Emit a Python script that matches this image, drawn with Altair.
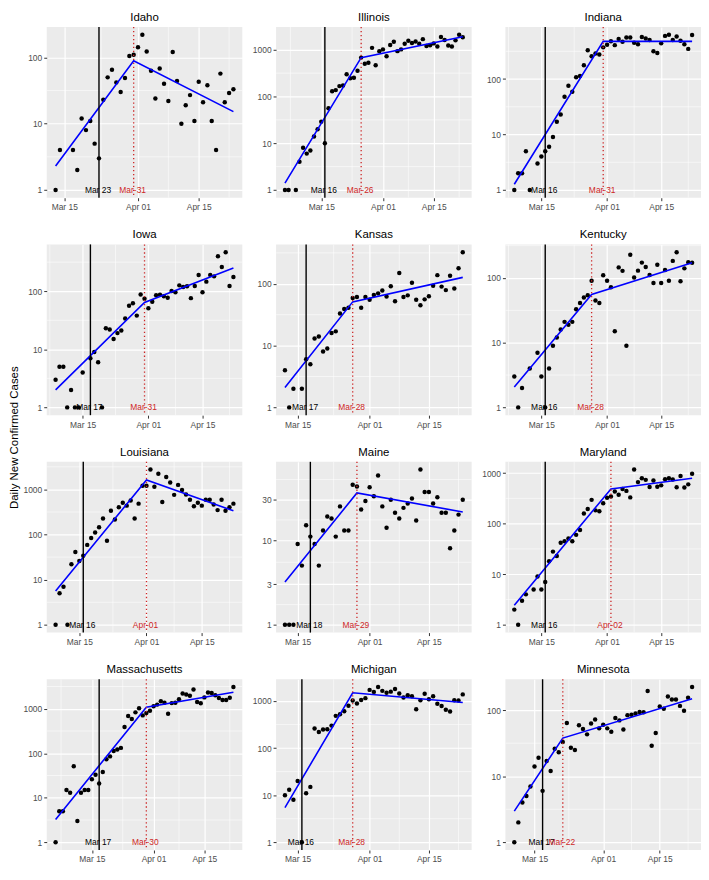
import altair as alt
import pandas as pd
import numpy as np
from datetime import datetime, timedelta, timezone

FONT = "Liberation Sans, Arial, Helvetica, sans-serif"
RED = "#CD2626"

STATES = ["Idaho", "Illinois", "Indiana", "Iowa", "Kansas", "Kentucky",
          "Louisiana", "Maine", "Maryland", "Massachusetts", "Michigan", "Minnesota"]
FIRST_DAY = ["2020-03-13", "2020-03-05", "2020-03-08", "2020-03-08", "2020-03-12", "2020-03-08",
             "2020-03-09", "2020-03-12", "2020-03-08", "2020-03-05", "2020-03-12", "2020-03-10"]
BLACK_LINE = ["2020-03-23", "2020-03-16", "2020-03-16", "2020-03-17", "2020-03-17", "2020-03-16",
              "2020-03-16", "2020-03-18", "2020-03-16", "2020-03-17", "2020-03-16", "2020-03-17"]
BLACK_LABEL = ["Mar 23", "Mar 16", "Mar 16", "Mar 17", "Mar 17", "Mar 16",
               "Mar 16", "Mar 18", "Mar 16", "Mar 17", "Mar 16", "Mar 17"]
RED_LINE = ["2020-03-31", "2020-03-26", "2020-03-31", "2020-03-31", "2020-03-28", "2020-03-28",
            "2020-04-01", "2020-03-29", "2020-04-02", "2020-03-30", "2020-03-28", "2020-03-22"]
RED_LABEL = ["Mar-31", "Mar-26", "Mar-31", "Mar-31", "Mar-28", "Mar-28",
             "Apr-01", "Mar-29", "Apr-02", "Mar-30", "Mar-28", "Mar-22"]
FIT_START = [2.3, 1.4, 1.27, 2.0, 2.1, 2.07, 5.6, 3.2, 2.43, 3.25, 5.45, 2.96]
FIT_BREAK = [89, 680, 478, 64, 51, 55.6, 1620, 36, 485, 1085, 1490, 37.8]
FIT_END = [15.2, 1900, 478, 250, 127, 172, 336, 21.5, 789, 2360, 925, 149]
Y_BREAKS = [[1, 10, 100], [1, 10, 100, 1000], [1, 10, 100], [1, 10, 100], [1, 10, 100], [1, 10, 100],
            [1, 10, 100, 1000], [1, 3, 10, 30], [1, 10, 100, 1000], [1, 10, 100, 1000],
            [1, 10, 100, 1000], [1, 10, 100]]
X_BREAKS = ["2020-03-15", "2020-04-01", "2020-04-15"]

IDAHO = [1, 4, None, None, 4, 2, 12, 8, 11, 5, 3, 23, 50, 65, 42, 30, 49, 105, 110,
         142, 220, 123, 63, 24, 68, 40, 22, 121, 44, 10, 19, 27, 11, 43, 21, 38, 11, 4, 57, 21, 29, 33]
ILLINOIS = [1, 1, None, 1, 4, 8, 6, 7, 14, 20, 29, 10, 56, 129, 137, 167, 172, 300, 245, 252,
            355, 680, 503, 526, 1100, 465, 935,
            1020, 725, 1260, 1490, 935, 1020, 1350, 1560, 1400, 1500, 1350, 1690, 1200, 1250,
            1370, 1170, 1870, 1620, 1230, 1170, 1590, 2100, 1850]
INDIANA = [1, 2, 2, 5, 1, None, 3, 4, 5, 6, 9, 17, 23, 48, 76, 59, 108, 114, 178, 330, 257, 290, 277, 373,
           417, 481, 409, 530, 470, 560, 560, 450, 425, 575, 540, 505, 318, 296, 440, 600, 630, 505,
           585, 490, 425, 350, 625]
IOWA = [3, 5, 5, 1, 2, 1, 1, 4, None, 7, 9, 6, 1, 23, 22, 15, 19, 21, 34, 56, 62, 38, 88, 74,
        51, 66, 85, 87, 82, 77, 101, 96, 126, 118, 122, 76, 123, 190, 96, 146, 191, 180, 400, 260,
        470, 123, 175]
KANSAS = [4, 1, 2, None, 2, 6, 5, 13, 14, 8, 9, 16, 17, 33, 39, 41, 59, 61, 41, 61,
          55, 66, 70, 78, 62, 91, 52, 150, 61, 65, 104, 55, 45, 56, 63, 93, 138, 90, 79, 135, 84, 178, 325]
KENTUCKY = [3, 1, 2, None, 4, None, 7, 3, 1, 4, 9, 12, 16, 21, 19, 21, 33, 41, 50, 54, 91, 45, 41, 110,
            91, 72, 15, 146, 129, 9, 229, 102, 130, 173, 148, 111, 84, 160, 84, 133, 91, 184, 251, 89,
            141, 176, 172]
LOUISIANA = [1, 5, 7, 1, 22, 41, 26, 34, 59, 84, 111, 145, 226, 73, 336, 215, 403, 507, 437, 569, 226, 484, 1200,
             1200, 2750, 1145, 2215, 527, 1880, 1420, 757, 1260, 970, 768, 590, 423, 507, 437, 590, 590,
             462, 348, 590, 336, 403, 484]
MAINE = [1, 1, 1, 9, 5, 15, 11, 9, 5, 13, 19, 18, 11, 25, 13, 13, 45, 43, 23, 29,
         42, 33, 58, 25, 14, 30, 21, 18, 24, 27, 31, 17, 68, 37, 37, 27, 32, 21, 21, 8, 13, 20, 30]
MARYLAND = [2, 1, 3, 4, None, 5, 9, 5, 7, 18, 28, 23, 42, 45, 51, 45, 60, 75, 158, 195, 295, 183, 175, 253,
            325, 345, 430, 372, 485, 444, 330, 1170, 662, 789, 733, 530, 713, 537, 571, 755, 789, 742,
            522, 875, 516, 597, 970]
MASSACHUSETTS = [1, 5, 5, 15, 13, 51, 3, 13, 15, 15, 26, 33, 21, 38, 73, 85, 112, 122, 132, 389,
                 690, 590, 830, 1025, 710, 800, 900,
                 1140, 1240, 1470, 1370, 770, 1340, 1370, 1630, 2200, 2100, 1960, 2700, 1420, 1330,
                 1800, 2320, 2270, 2020, 1740, 1570, 1570, 1770, 3080]
MICHIGAN = [10, 13, 8, 20, 1, 11, 15, 260, 219, 248, 250, 300, 483, 525, 605, 790, 1020, 883, 1050, 1150,
            1720, 1560, 1980, 1640, 1490, 1580, 1800, 1440, 1190, 1330, 1260, 665, 1035, 1420, 1085,
            1260, 870, 780, 650, 600, 1035, 1020, 1380]
MINNESOTA = [1, 2, 4, 5, 7, 14, 19, 6, 17, 12, 26, 23, 33, 64, 27, 25, 59, 52, 43, 63, 72, 53,
             60, 53, 47, 76, 70, 51, 84, 85, 89, 94, 93, 195, 29, 45, 114, 105, 161, 145, 145, 116,
             98, 154, 224]

SERIES = [IDAHO, ILLINOIS, INDIANA, IOWA, KANSAS, KENTUCKY,
          LOUISIANA, MAINE, MARYLAND, MASSACHUSETTS, MICHIGAN, MINNESOTA]

W, H = 197, 172


def day(s):
    return datetime.strptime(s, "%Y-%m-%d").replace(tzinfo=timezone.utc)


def ms(d):
    return int(d.timestamp() * 1000)


X_MAJOR = [ms(day(s)) for s in X_BREAKS]


def minor_between(b):
    ext = [b[0] - (b[1] - b[0])] + list(b) + [b[-1] + (b[-1] - b[-2])]
    return [(a + c) / 2 for a, c in zip(ext[:-1], ext[1:])]


X_MINOR = minor_between(X_MAJOR)


def panel(i):
    vals = SERIES[i]
    d0 = day(FIRST_DAY[i])
    last = d0 + timedelta(days=len(vals) - 1)
    pts = pd.DataFrame([{"date": ms(d0 + timedelta(days=k)), "value": v}
                        for k, v in enumerate(vals) if v is not None])
    fit = pd.DataFrame({"date": [ms(d0), ms(day(RED_LINE[i])), ms(last)],
                        "value": [FIT_START[i], FIT_BREAK[i], FIT_END[i]]})
    xs = [ms(d0), ms(last)]
    xpad = 0.05 * (xs[1] - xs[0])
    xdom = [xs[0] - xpad, xs[1] + xpad]
    allv = [v for v in vals if v is not None] + list(fit["value"]) + [1]
    lo, hi = np.log10(min(allv)), np.log10(max(allv))
    ypad = 0.05 * (hi - lo)
    ydom = [10 ** (lo - ypad), 10 ** (hi + ypad)]
    ymin = [10 ** v for v in minor_between([np.log10(b) for b in Y_BREAKS[i]])]

    x = alt.X("date:T", scale=alt.Scale(type="utc", domain=xdom),
              axis=alt.Axis(values=X_MAJOR, labelExpr="utcFormat(datum.value, '%b %d')",
                            title=None))
    y = alt.Y("value:Q", scale=alt.Scale(type="log", domain=ydom),
              axis=alt.Axis(values=Y_BREAKS[i], format="d", title=None))

    minor_y = alt.Chart(pd.DataFrame({"value": ymin})).mark_rule(
        color="white", strokeWidth=0.55, clip=True).encode(y=y)
    minor_x = alt.Chart(pd.DataFrame({"date": X_MINOR})).mark_rule(
        color="white", strokeWidth=0.55, clip=True).encode(x=x)
    points = alt.Chart(pts).mark_circle(size=20, color="black", opacity=1).encode(x=x, y=y)
    line = alt.Chart(fit).mark_line(color="blue", strokeWidth=1.6).encode(x=x, y=y)
    bl = pd.DataFrame({"date": [ms(day(BLACK_LINE[i]))], "value": [1], "label": [BLACK_LABEL[i]]})
    rl = pd.DataFrame({"date": [ms(day(RED_LINE[i]))], "value": [1], "label": [RED_LABEL[i]]})
    black_rule = alt.Chart(bl).mark_rule(color="black", strokeWidth=1.4).encode(x=x)
    red_rule = alt.Chart(rl).mark_rule(color=RED, strokeWidth=1.3, strokeDash=[1.3, 2.7]).encode(x=x)
    black_txt = alt.Chart(bl).mark_text(fontSize=8.5, font=FONT, color="black", dx=-1).encode(
        x=x, y=y, text="label:N")
    red_txt = alt.Chart(rl).mark_text(fontSize=8.5, font=FONT, color=RED, dx=-1).encode(
        x=x, y=y, text="label:N")
    return alt.layer(minor_y, minor_x, points, line, black_rule, red_rule, black_txt, red_txt).properties(
        width=W, height=H,
        title=alt.TitleParams(STATES[i], fontSize=11.5, fontWeight="normal", font=FONT,
                              color="black", anchor="middle", offset=3))


panels = [panel(i) for i in range(len(STATES))]

chart = alt.concat(*panels, columns=3, spacing={"row": 47, "column": 34}, bounds="flush").properties(
    title=alt.TitleParams("Daily New Confirmed Cases", orient="left", anchor="middle", fontSize=11.5,
                          fontWeight="normal", font=FONT, color="black", offset=3),
    padding={"left": 0, "top": 0, "right": 0, "bottom": 0},
).configure_view(fill="#EBEBEB", strokeWidth=0).configure_axis(
    domain=False, gridColor="white", gridWidth=1.2, tickColor="#333333", tickSize=3, tickWidth=1,
    labelColor="#4D4D4D", labelFontSize=8.5, labelFont=FONT, labelPadding=2,
)

chart.save("out.html", embed_options={"renderer": "svg", "actions": False})
